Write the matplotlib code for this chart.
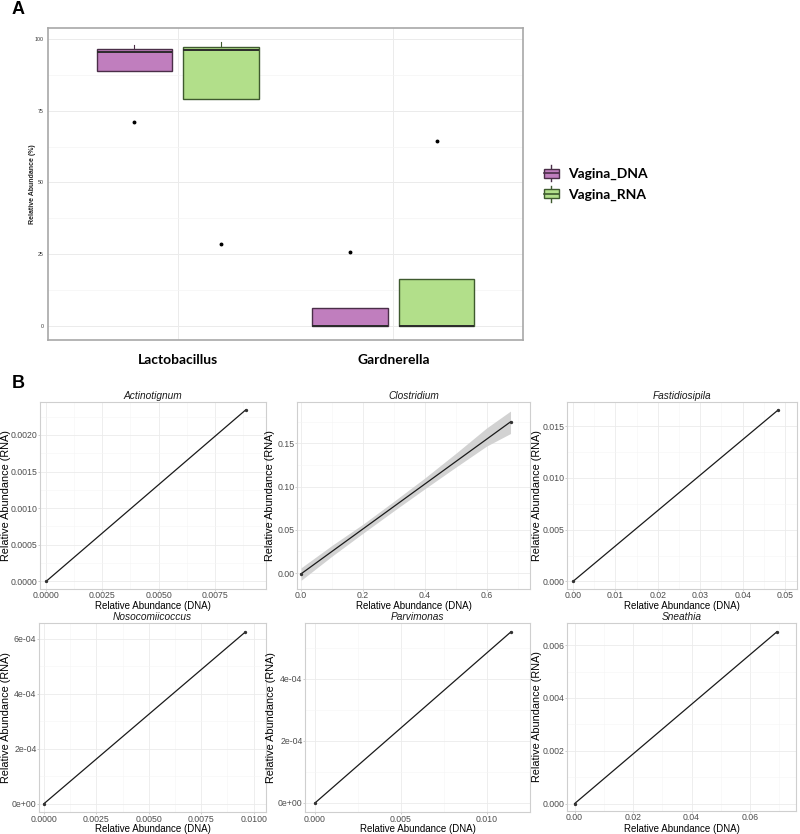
import matplotlib

matplotlib.use("Agg")
import matplotlib.pyplot as plt
from matplotlib.legend_handler import HandlerBase
from matplotlib.lines import Line2D
from matplotlib.patches import Patch, Rectangle
from matplotlib.ticker import AutoMinorLocator, FixedLocator, MultipleLocator

plt.rcParams["font.family"] = ["Liberation Sans", "DejaVu Sans"]

# ---- panel A: boxplot summary (relative abundance, %)
GENERA = ["Lactobacillus", "Gardnerella"]
GROUPS = ["Vagina_DNA", "Vagina_RNA"]
GROUP_FILL = ["#C07EBE", "#B2DF8A"]
GROUP_EDGE = ["#4A2E48", "#3E5A2E"]

# one entry per genus, per group
Q1 = {"Vagina_DNA": [88.8, 0.0], "Vagina_RNA": [79.0, 0.0]}
MED = {"Vagina_DNA": [95.4, 0.0], "Vagina_RNA": [96.1, 0.0]}
Q3 = {"Vagina_DNA": [96.5, 6.4], "Vagina_RNA": [97.3, 16.3]}
WHIS_LO = {"Vagina_DNA": [88.8, 0.0], "Vagina_RNA": [79.0, 0.0]}
WHIS_HI = {"Vagina_DNA": [98.0, 6.4], "Vagina_RNA": [98.9, 16.3]}
OUTLIERS = {"Vagina_DNA": [[71.1], [25.6]], "Vagina_RNA": [[28.7], [64.5]]}

# ---- panel B: DNA vs RNA linear fits per genus
PANEL_B_TITLES = ["Actinotignum", "Clostridium", "Fastidiosipila",
                  "Nosocomiicoccus", "Parvimonas", "Sneathia"]
FIT_DNA = [[0.0, 0.00886], [0.0, 0.677], [0.0, 0.0483],
           [0.0, 0.0096], [0.0, 0.0114], [0.0, 0.0691]]
FIT_RNA = [[0.0, 0.00234], [-0.001, 0.175], [0.0, 0.01655],
           [0.0, 0.000624], [0.0, 0.000550], [0.0, 0.0065]]

# confidence band for Clostridium
CLOS_BAND_X = [0.0, 0.1, 0.2, 0.3, 0.4, 0.5, 0.6, 0.677]
CLOS_BAND_LO = [-0.0085, 0.0195, 0.0460, 0.0720, 0.0975, 0.1225, 0.1470, 0.1615]
CLOS_BAND_HI = [0.0060, 0.0320, 0.0565, 0.0830, 0.1100, 0.1385, 0.1680, 0.1875]

X_LIMS = [(-0.00027, 0.00977), (-0.013, 0.74), (-0.0014, 0.0528),
          (-0.00024, 0.01059), (-0.00058, 0.01252), (-0.0026, 0.0757)]
Y_LIMS = [(-0.000104, 0.00245), (-0.0185, 0.198), (-0.00073, 0.01734),
          (-0.0000305, 0.000657), (-0.000029, 0.000579), (-0.00028, 0.00684)]
X_TICKS = [[0.0, 0.0025, 0.005, 0.0075], [0.0, 0.2, 0.4, 0.6],
           [0.0, 0.01, 0.02, 0.03, 0.04, 0.05], [0.0, 0.0025, 0.005, 0.0075, 0.01],
           [0.0, 0.005, 0.01], [0.0, 0.02, 0.04, 0.06]]
X_TICK_LABELS = [["0.0000", "0.0025", "0.0050", "0.0075"], ["0.0", "0.2", "0.4", "0.6"],
                 ["0.00", "0.01", "0.02", "0.03", "0.04", "0.05"],
                 ["0.0000", "0.0025", "0.0050", "0.0075", "0.0100"],
                 ["0.000", "0.005", "0.010"], ["0.00", "0.02", "0.04", "0.06"]]
Y_TICKS = [[0.0, 0.0005, 0.001, 0.0015, 0.002], [0.0, 0.05, 0.1, 0.15],
           [0.0, 0.005, 0.01, 0.015], [0.0, 0.0002, 0.0004, 0.0006],
           [0.0, 0.0002, 0.0004], [0.0, 0.002, 0.004, 0.006]]
Y_TICK_LABELS = [["0.0000", "0.0005", "0.0010", "0.0015", "0.0020"],
                 ["0.00", "0.05", "0.10", "0.15"], ["0.000", "0.005", "0.010", "0.015"],
                 ["0e+00", "2e-04", "4e-04", "6e-04"], ["0e+00", "2e-04", "4e-04"],
                 ["0.000", "0.002", "0.004", "0.006"]]

FIG_W, FIG_H = 800, 834

# axes boxes in pixels: left, top, right, bottom
PANEL_A_BOX = (48, 28, 523, 340)
PANEL_B_BOXES = [(40, 402, 266, 589), (297, 402, 530, 589), (567, 402, 797, 589),
                 (39, 623, 266, 812), (305, 623, 530, 812), (567, 623, 796, 811)]
# label centres in pixels: y-label x position, x-label y position
YLABEL_X = [6, 270, 537, 6, 271, 537]
XLABEL_Y = [606, 606, 606, 829, 829, 829]


def _rect(box):
    left, top, right, bottom = box
    return [left / FIG_W, 1 - bottom / FIG_H, (right - left) / FIG_W, (bottom - top) / FIG_H]


class BoxKeyHandler(HandlerBase):
    def create_artists(self, legend, orig_handle, xdescent, ydescent, width, height, fontsize, trans):
        face = orig_handle.get_facecolor()
        edge = orig_handle.get_edgecolor()
        cx = -xdescent + width / 2
        box = Rectangle((-xdescent, -ydescent + height * 0.1), width, height * 0.8,
                        facecolor=face, edgecolor=edge, linewidth=1.0, transform=trans)
        whisker = Line2D([cx, cx], [-ydescent - height * 0.2, -ydescent + height * 1.2],
                         color=edge, linewidth=1.0, transform=trans)
        median = Line2D([-xdescent, -xdescent + width], [-ydescent + height / 2] * 2,
                        color=edge, linewidth=1.2, transform=trans)
        return [whisker, box, median]


def draw_panel_a(fig):
    ax = fig.add_axes(_rect(PANEL_A_BOX))
    offsets = [-0.2, 0.2]
    for gi, group in enumerate(GROUPS):
        stats = []
        for ci in range(len(GENERA)):
            stats.append({
                "med": MED[group][ci], "q1": Q1[group][ci], "q3": Q3[group][ci],
                "whislo": WHIS_LO[group][ci], "whishi": WHIS_HI[group][ci],
                "fliers": OUTLIERS[group][ci],
            })
        positions = [ci + 1 + offsets[gi] for ci in range(len(GENERA))]
        ax.bxp(
            stats, positions=positions, widths=0.35, patch_artist=True, showcaps=False,
            boxprops={"facecolor": GROUP_FILL[gi], "edgecolor": GROUP_EDGE[gi], "linewidth": 1.0},
            medianprops={"color": "#2B2B2B", "linewidth": 1.4},
            whiskerprops={"color": GROUP_EDGE[gi], "linewidth": 0.8},
            flierprops={"marker": "o", "markersize": 1.8, "markerfacecolor": "black",
                        "markeredgecolor": "black"},
            manage_ticks=False, zorder=3,
        )
    ax.set_xlim(0.4, 2.6)
    ax.set_ylim(-4.9, 103.8)
    ax.set_xticks([1, 2], GENERA)
    ax.set_yticks([0, 25, 50, 75, 100])
    ax.yaxis.set_minor_locator(MultipleLocator(12.5))
    ax.grid(which="major", color="#EBEBEB", linewidth=0.7)
    ax.grid(which="minor", axis="y", color="#F4F4F4", linewidth=0.5)
    ax.set_axisbelow(True)
    ax.tick_params(axis="y", which="both", labelsize=3.8, length=0, pad=3, labelcolor="#333333")
    ax.tick_params(axis="x", length=0, pad=10)
    for label in ax.get_xticklabels():
        label.set_fontfamily(["Lato", "DejaVu Sans"])
        label.set_fontweight("bold")
        label.set_fontsize(10)
    ax.set_ylabel("Relative Abundance (%)", fontsize=5.0, fontweight="bold", color="#222222")
    ax.yaxis.label.set_va("center")
    ax.yaxis.set_label_coords((33 - PANEL_A_BOX[0]) / (PANEL_A_BOX[2] - PANEL_A_BOX[0]), 0.5)
    for spine in ax.spines.values():
        spine.set_color("#A8A8A8")
        spine.set_linewidth(1.2)

    handles = [Patch(facecolor=GROUP_FILL[i], edgecolor=GROUP_EDGE[i]) for i in range(len(GROUPS))]
    fig.legend(
        handles, GROUPS, loc="center left", bbox_to_anchor=(531 / FIG_W, 1 - 184 / FIG_H),
        frameon=False, handler_map={Patch: BoxKeyHandler()}, handlelength=1.1, handleheight=0.9,
        handletextpad=0.7, labelspacing=0.55, prop={"family": ["Lato", "DejaVu Sans"],
                                                     "weight": "bold", "size": 10},
    )


def draw_panel_b(fig):
    for i, box in enumerate(PANEL_B_BOXES):
        ax = fig.add_axes(_rect(box))
        if i == 1:
            ax.fill_between(CLOS_BAND_X, CLOS_BAND_LO, CLOS_BAND_HI, color="#D2D2D2",
                            linewidth=0, zorder=2)
        ax.plot(FIT_DNA[i], FIT_RNA[i], color="#1A1A1A", linewidth=0.9, zorder=3)
        ax.plot(FIT_DNA[i], FIT_RNA[i], linestyle="none", marker="o", markersize=1.4,
                color="#333333", zorder=4)
        ax.set_xlim(*X_LIMS[i])
        ax.set_ylim(*Y_LIMS[i])
        ax.xaxis.set_major_locator(FixedLocator(X_TICKS[i]))
        ax.yaxis.set_major_locator(FixedLocator(Y_TICKS[i]))
        ax.set_xticklabels(X_TICK_LABELS[i])
        ax.set_yticklabels(Y_TICK_LABELS[i])
        ax.xaxis.set_minor_locator(AutoMinorLocator(2))
        ax.yaxis.set_minor_locator(AutoMinorLocator(2))
        ax.grid(which="major", color="#EBEBEB", linewidth=0.6)
        ax.grid(which="minor", color="#F5F5F5", linewidth=0.4)
        ax.set_axisbelow(True)
        ax.tick_params(which="major", labelsize=6.3, labelcolor="#4D4D4D", length=1.5,
                       color="#BDBDBD", width=0.5, pad=0.3)
        ax.tick_params(which="minor", length=0)
        left, top, right, bottom = box
        ax.set_xlabel("Relative Abundance (DNA)", fontsize=7.0)
        ax.xaxis.label.set_va("center")
        ax.xaxis.set_label_coords(0.5, -(XLABEL_Y[i] - bottom) / (bottom - top))
        ax.set_ylabel("Relative Abundance (RNA)", fontsize=7.8)
        ax.yaxis.label.set_va("center")
        ax.yaxis.set_label_coords((YLABEL_X[i] - left) / (right - left), 0.5)
        ax.set_title(PANEL_B_TITLES[i], fontsize=7.3, style="italic", color="#1A1A1A", pad=2.5)
        for spine in ax.spines.values():
            spine.set_color("#CFCFCF")
            spine.set_linewidth(0.8)


def main() -> int:
    fig = plt.figure(figsize=(FIG_W / 100, FIG_H / 100), dpi=100)
    draw_panel_a(fig)
    draw_panel_b(fig)
    fig.text(12 / FIG_W, 1 - 10 / FIG_H, "A", fontsize=13, fontweight="bold", va="center")
    fig.text(12 / FIG_W, 1 - 383 / FIG_H, "B", fontsize=13, fontweight="bold", va="center")
    fig.savefig("out.png", dpi=100, facecolor="white")
    plt.close(fig)
    return 0


if __name__ == "__main__":
    raise SystemExit(main())
